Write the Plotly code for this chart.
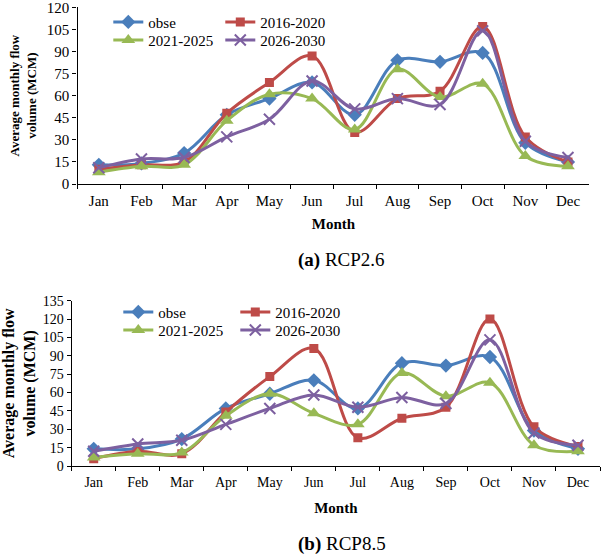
import plotly.graph_objects as go

months = ["Jan", "Feb", "Mar", "Apr", "May", "Jun", "Jul", "Aug", "Sep", "Oct", "Nov", "Dec"]
series_names = ["obse", "2016-2020", "2021-2025", "2026-2030"]

# (a) RCP2.6
rcp26_obse = [13, 14, 21, 47, 58, 69, 47, 84, 83, 89, 28, 15]
rcp26_2016 = [10, 13, 15, 48, 69, 87, 35, 58, 63, 107, 32, 15]
rcp26_2021 = [8, 12, 13, 43, 61, 58, 37, 78, 59, 68, 19, 12]
rcp26_2026 = [11, 17, 18, 32, 44, 70, 51, 58, 54, 104, 29, 18]

# (b) RCP8.5
rcp85_obse = [14, 14, 22, 47, 59, 70, 47, 84, 82, 89, 29, 14]
rcp85_2016 = [6, 12, 10, 44, 73, 96, 23, 39, 48, 120, 32, 16]
rcp85_2021 = [7, 10, 11, 41, 59, 43, 34, 76, 57, 68, 17, 12]
rcp85_2026 = [12, 18, 21, 34, 47, 58, 48, 56, 51, 103, 27, 17]

y_ticks_a = [0, 15, 30, 45, 60, 75, 90, 105, 120]
y_ticks_b = [0, 15, 30, 45, 60, 75, 90, 105, 120, 135]

FONT = "Liberation Serif, Times New Roman, serif"
colors = ["#4A7EBB", "#BE4B48", "#98B954", "#7D60A0"]
symbols = ["diamond", "square", "triangle-up", "x-thin"]
msizes = [11, 9, 12, 11]

fig = go.Figure()

panels = [
    ("x", "y", [rcp26_obse, rcp26_2016, rcp26_2021, rcp26_2026], ["legend", "legend", "legend2", "legend2"]),
    ("x2", "y2", [rcp85_obse, rcp85_2016, rcp85_2021, rcp85_2026], ["legend3", "legend3", "legend4", "legend4"]),
]

for xa, ya, data, legs in panels:
    for i, (name, vals) in enumerate(zip(series_names, data)):
        marker = dict(symbol=symbols[i], size=msizes[i], color=colors[i])
        if symbols[i] == "x-thin":
            marker["line"] = dict(color=colors[i], width=2)
        else:
            marker["line"] = dict(width=0)
        fig.add_trace(go.Scatter(
            x=months, y=vals, name=name, mode="lines+markers",
            line=dict(color=colors[i], width=3, shape="spline", smoothing=1.0),
            marker=marker, xaxis=xa, yaxis=ya, legend=legs[i],
        ))

W, H = 601, 556

def px_x(p):
    return p / W

def px_y(p):
    return 1 - p / H

axis_common = dict(
    showline=True, linecolor="black", linewidth=1.3, showgrid=False, zeroline=False,
    ticks="outside", ticklen=4, tickcolor="black", tickwidth=1.3, automargin=False,
    tickfont=dict(family=FONT, size=15, color="black"),
)

ytitle = "<b>Average monthly flow<br>volume (MCM)</b>"

def legend_cfg(x_px, y_px, ew, size):
    return dict(
        orientation="h", entrywidth=ew, entrywidthmode="pixels",
        x=px_x(x_px), y=px_y(y_px), xanchor="left", yanchor="top",
        bgcolor="rgba(0,0,0,0)", borderwidth=0,
        font=dict(family=FONT, size=size, color="black"),
        traceorder="normal",
    )

fig.update_layout(
    width=W, height=H, autosize=False,
    font=dict(family=FONT, color="black"),
    margin=dict(l=0, r=0, t=0, b=0, pad=0),
    paper_bgcolor="white", plot_bgcolor="white",
    xaxis=dict(axis_common, domain=[px_x(77.5), px_x(589.3)], anchor="y", type="category",
               tickson="boundaries", range=[-0.5, 11.5], ticklabelstandoff=3,
               title=dict(text="<b>Month</b>", font=dict(family=FONT, size=15, color="black"), standoff=10)),
    yaxis=dict(axis_common, domain=[px_y(184), px_y(7.3)], anchor="x", range=[0, 120],
               tickvals=y_ticks_a, ticklabeloverflow="allow",
               title=dict(text=ytitle, font=dict(family=FONT, size=13, color="black"), standoff=7)),
    xaxis2=dict(axis_common, domain=[px_x(71.7), px_x(600)], anchor="y2", type="category",
                tickson="boundaries", range=[-0.5, 11.5], ticklabelstandoff=3,
                tickfont=dict(family=FONT, size=14, color="black"),
                title=dict(text="<b>Month</b>", font=dict(family=FONT, size=15, color="black"), standoff=13)),
    yaxis2=dict(axis_common, domain=[px_y(466), px_y(300.7)], anchor="x2", range=[0, 135],
                tickvals=y_ticks_b, tickfont=dict(family=FONT, size=14, color="black"),
                title=dict(text=ytitle, font=dict(family=FONT, size=16, color="black"), standoff=6)),
    legend=legend_cfg(108.3, 5.7, 67, 15),
    legend2=legend_cfg(108.3, 23.8, 67, 15),
    legend3=legend_cfg(118.3, 295.7, 72, 15),
    legend4=legend_cfg(118.3, 313.7, 72, 15),
    showlegend=True,
    annotations=[
        dict(text="<b>(a)</b> RCP2.6", x=px_x(341.5), y=px_y(259.7), xref="paper", yref="paper",
             xanchor="center", yanchor="middle", showarrow=False,
             font=dict(family=FONT, size=19, color="black")),
        dict(text="<b>(b)</b> RCP8.5", x=px_x(341.5), y=px_y(543.5), xref="paper", yref="paper",
             xanchor="center", yanchor="middle", showarrow=False,
             font=dict(family=FONT, size=19, color="black")),
    ],
)

# remove the browser's default 8px body margin so the figure fills the window
fig.write_html("out.html", config={"displayModeBar": False},
               post_script="document.body.style.margin='0';")
